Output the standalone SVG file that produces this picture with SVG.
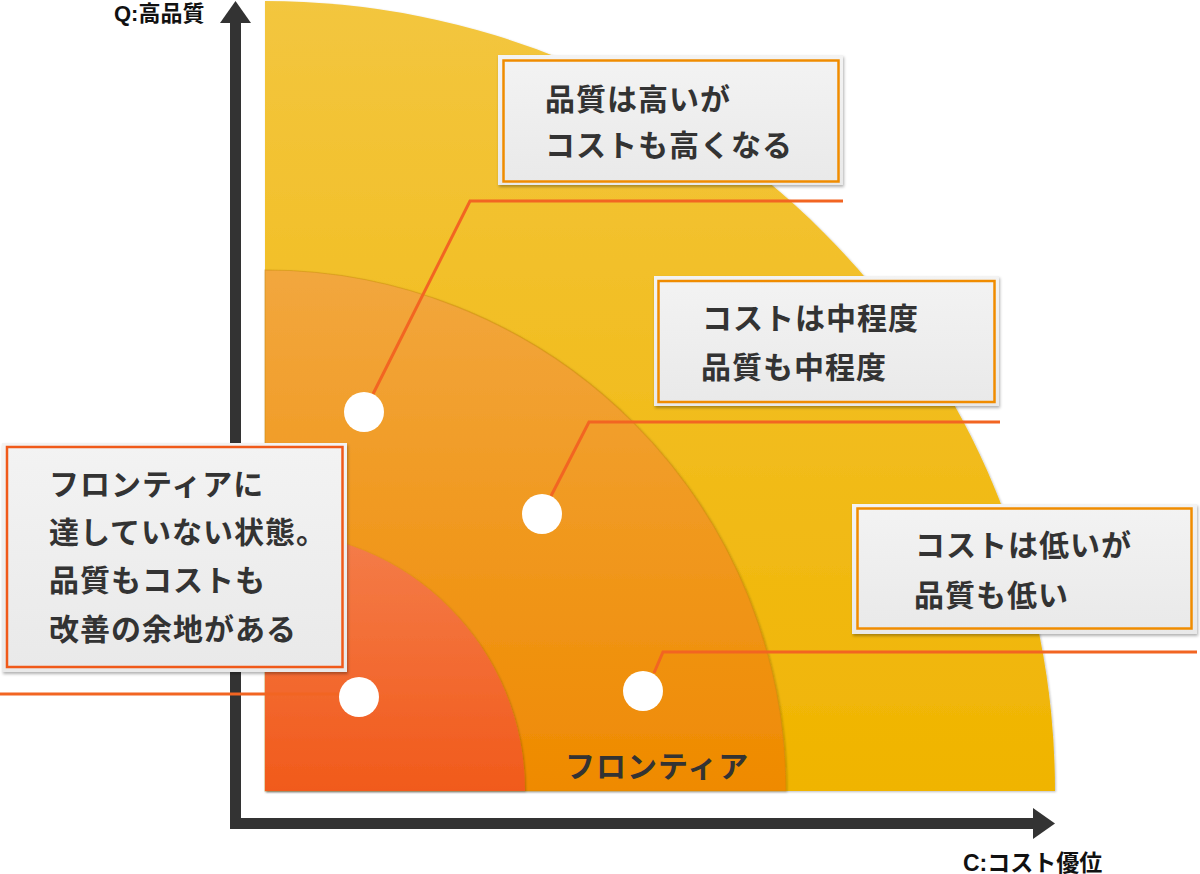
<svg xmlns="http://www.w3.org/2000/svg" width="1200" height="874" viewBox="0 0 1200 874">
  <defs>
    <linearGradient id="gOuter" x1="0" y1="0" x2="0" y2="1">
      <stop offset="0" stop-color="#F3C63F"/>
      <stop offset="1" stop-color="#F0B400"/>
    </linearGradient>
    <linearGradient id="gMid" x1="0" y1="0" x2="0" y2="1">
      <stop offset="0" stop-color="#F2A73E"/>
      <stop offset="1" stop-color="#EF8A00"/>
    </linearGradient>
    <linearGradient id="gInner" x1="0" y1="0" x2="0" y2="1">
      <stop offset="0" stop-color="#F47D4A"/>
      <stop offset="1" stop-color="#F15A1B"/>
    </linearGradient>
    <linearGradient id="gBox" x1="0" y1="0" x2="0" y2="1">
      <stop offset="0" stop-color="#F3F3F3"/>
      <stop offset="1" stop-color="#E9E9E9"/>
    </linearGradient>
    <filter id="shadow" x="-5%" y="-5%" width="115%" height="120%">
      <feDropShadow dx="1" dy="2" stdDeviation="1.5" flood-color="#000" flood-opacity="0.3"/>
    </filter>
    <filter id="soft" x="-5%" y="-5%" width="115%" height="115%">
      <feDropShadow dx="1" dy="1" stdDeviation="1" flood-color="#000" flood-opacity="0.25"/>
    </filter>
  </defs>
  <style>
    .box { fill: url(#gBox); filter: url(#shadow); }
    .frameO { fill: none; stroke: #F08C00; stroke-width: 2.5; }
    .frameR { fill: none; stroke: #F05A1A; stroke-width: 2.5; }
    .txt { font-family: "Noto Sans CJK JP", "Noto Sans", sans-serif; font-weight: 700; font-size: 30px; fill: #333333; letter-spacing: 1px; }
    .axl { font-family: "Liberation Sans", "Noto Sans CJK JP", sans-serif; font-weight: 700; font-size: 22px; fill: #111111; }
    .axis { fill: #333333; }
    .dot { fill: #FFFFFF; }
    .conn { fill: none; stroke: #F26522; stroke-width: 3; stroke-linejoin: miter; }
  </style>

  <g id="region-outer">
    <path d="M265,791 L265,1 A790,790 0 0 1 1055,791 Z" fill="url(#gOuter)" filter="url(#soft)"/>
  </g>
  <g id="region-mid">
    <path d="M265,791 L265,270 A521,521 0 0 1 786,791 Z" fill="url(#gMid)" stroke="#C98A10" stroke-opacity="0.45" stroke-width="1.2" filter="url(#soft)"/>
  </g>
  <g id="region-inner">
    <path d="M265,791 L265,531 A260,260 0 0 1 525,791 Z" fill="url(#gInner)" filter="url(#soft)"/>
  </g>

  <g id="axes">
    <rect class="axis" x="230" y="20" width="11" height="809"/>
    <polygon class="axis" points="235.5,1 251,23 220,23"/>
    <rect class="axis" x="230" y="818" width="806" height="11"/>
    <polygon class="axis" points="1055,823.5 1033,808 1033,839"/>
    <text class="axl" x="114" y="21">Q:高品質</text>
    <text class="axl" x="963" y="871" style="font-size:23px">C:コスト優位</text>
  </g>

  <g id="connectors">
    <polyline class="conn" points="373,394 470,201 843,201"/>
    <polyline class="conn" points="551,496 589,422 1000,422"/>
    <polyline class="conn" points="654,673 663,652 1197,652"/>
    <polyline class="conn" points="0,694 345,694"/>
  </g>

  <g id="label-frontier">
    <text class="txt" x="565" y="777">フロンティア</text>
  </g>

  <g id="dot-high">
    <circle class="dot" cx="364" cy="412" r="20"/>
  </g>
  <g id="dot-mid">
    <circle class="dot" cx="542" cy="514" r="20"/>
  </g>
  <g id="dot-low">
    <circle class="dot" cx="643" cy="691" r="20"/>
  </g>
  <g id="dot-inside">
    <circle class="dot" cx="359" cy="697" r="20"/>
  </g>

  <g id="box-high">
    <rect class="box" x="498" y="55" width="345" height="130"/>
    <rect class="frameO" x="503.5" y="60.5" width="335" height="121"/>
    <text class="txt" x="545" y="110">品質は高いが</text>
    <text class="txt" x="545" y="156">コストも高くなる</text>
  </g>
  <g id="box-mid">
    <rect class="box" x="654" y="276" width="345" height="130"/>
    <rect class="frameO" x="658.5" y="281" width="336" height="121"/>
    <text class="txt" x="702" y="329">コストは中程度</text>
    <text class="txt" x="701" y="378">品質も中程度</text>
  </g>
  <g id="box-low">
    <rect class="box" x="852" y="504" width="345" height="130"/>
    <rect class="frameO" x="857.5" y="508.5" width="334" height="120"/>
    <text class="txt" x="915" y="556">コストは低いが</text>
    <text class="txt" x="914" y="606">品質も低い</text>
  </g>
  <g id="box-inside">
    <rect class="box" x="2" y="443" width="345" height="229"/>
    <rect class="frameR" x="7" y="447" width="335.5" height="220"/>
    <text class="txt" x="49" y="495">フロンティアに</text>
    <text class="txt" x="49" y="543">達していない状態。</text>
    <text class="txt" x="49" y="591">品質もコストも</text>
    <text class="txt" x="49" y="640">改善の余地がある</text>
  </g>
</svg>
